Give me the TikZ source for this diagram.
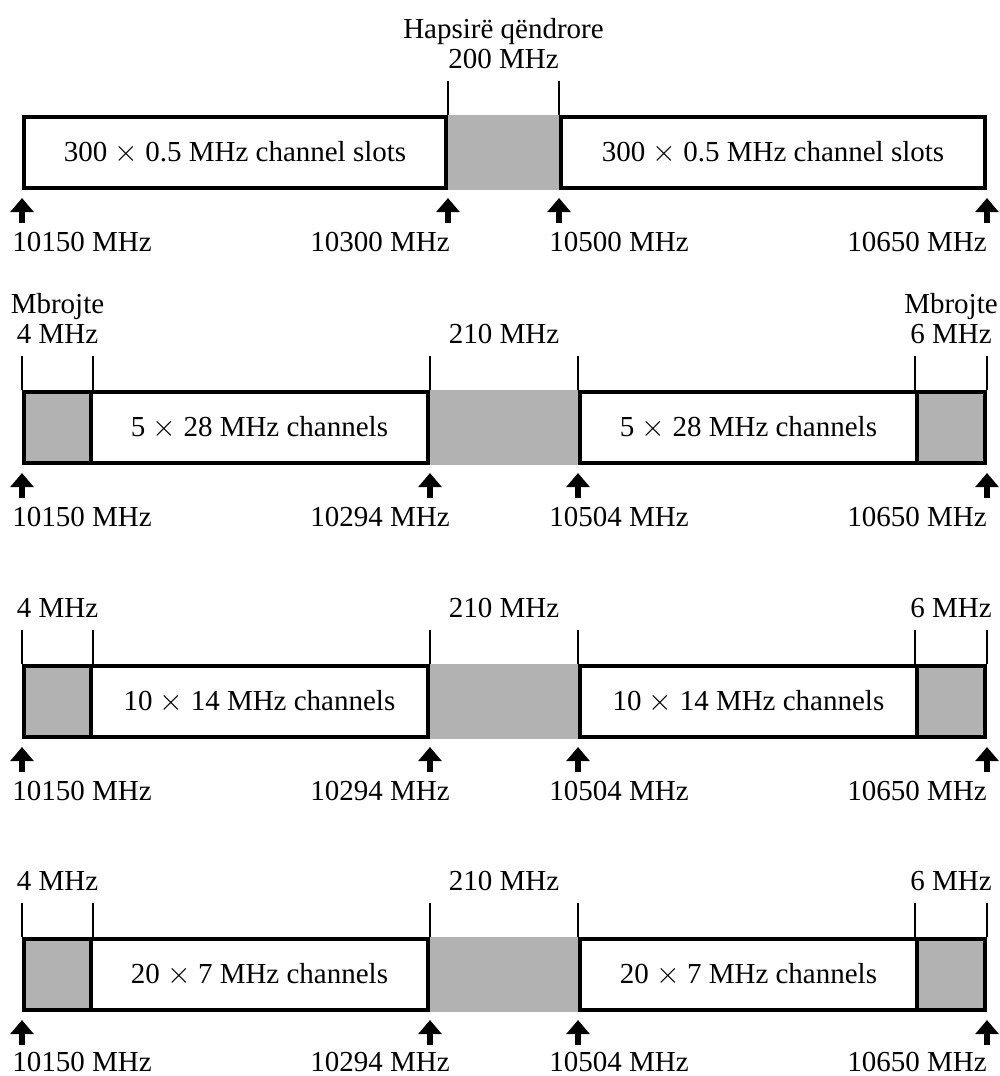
\documentclass[tikz,border=0pt]{standalone}
\usepackage{fontspec}
\setmainfont{Liberation Serif}
\usetikzlibrary{arrows.meta, calc}
\definecolor{gapgray}{HTML}{B2B2B2}

\begin{document}
\begin{tikzpicture}[
  x=0.02cm, y=-0.02cm,
  font=\fontsize{16.5}{17}\selectfont,
  slot/.style={
    draw, line width=2.3pt, inner sep=0pt,
    minimum height=1.42cm, align=center
  },
  guard/.style={slot, fill=gapgray},
  gap/.style={fill=gapgray, inner sep=0pt, minimum height=1.42cm+2.3pt},
  tick/.style={line width=1pt},
  freq/.style={-{Triangle[width=13pt, length=8pt]}, line width=3.2pt},
  flbl/.style={inner sep=0pt},
  toplbl/.style={inner sep=0pt, anchor=south, align=center},
]
\useasboundingbox (0,0) rectangle (1000,1076);

% Row 1: 300 x 0.5 MHz slots, centre gap 200 MHz
\node[gap, minimum width=2.30cm] (g1) at (503.5,152.5) {};
\node[slot, minimum width=8.44cm] (s1a) at (235,152.5) {300 $\times$ 0.5 MHz channel slots};
\node[slot, minimum width=8.48cm] (s1b) at (773,152.5) {300 $\times$ 0.5 MHz channel slots};
\draw[tick] (s1a.north east) -- ++(0,-34) coordinate (t1a);
\draw[tick] (s1b.north west) -- ++(0,-34) coordinate (t1b);
\node[toplbl] (h1) at ($(t1a)!0.5!(t1b)+(0,-12)$) {Hapsirë qëndrore\\200 MHz};
\draw[freq] ($(s1a.south west)+(0,33)$) -- ++(0,-25);
\draw[freq] ($(s1a.south east)+(0,33)$) -- ++(0,-25);
\draw[freq] ($(s1b.south west)+(0,33)$) -- ++(0,-25);
\draw[freq] ($(s1b.south east)+(0,33)$) -- ++(0,-25);
\node[flbl, anchor=west] (f1a) at (12,242)  {10150 MHz};
\node[flbl, anchor=east] (f1b) at (450,242) {10300 MHz};
\node[flbl, anchor=west] (f1c) at (549,242) {10500 MHz};
\node[flbl, anchor=east] (f1d) at (987,242) {10650 MHz};

% Row 2: 5 x 28 MHz, guard bands 4 / 6 MHz
\node[gap, minimum width=3.04cm] (g2) at (504,427.5) {};
\node[guard, minimum width=1.34cm] (l2) at (57.5,427.5) {};
\node[slot, minimum width=6.74cm] (s2a) at (259.5,427.5) {5 $\times$ 28 MHz channels};
\node[slot, minimum width=6.74cm] (s2b) at (748.5,427.5) {5 $\times$ 28 MHz channels};
\node[guard, minimum width=1.36cm] (r2) at (951,427.5) {};
\draw[tick] (l2.north west) -- ++(0,-34) coordinate (t2a);
\draw[tick] (l2.north east) -- ++(0,-34) coordinate (t2b);
\draw[tick] (s2a.north east) -- ++(0,-34) coordinate (t2c);
\draw[tick] (s2b.north west) -- ++(0,-34) coordinate (t2d);
\draw[tick] (r2.north west) -- ++(0,-34) coordinate (t2e);
\draw[tick] (r2.north east) -- ++(0,-34) coordinate (t2f);
\node[toplbl] (m2a) at ($(t2a)!0.5!(t2b)+(0,-12)$) {Mbrojte\\4 MHz};
\node[toplbl] (m2b) at ($(t2c)!0.5!(t2d)+(0,-12)$) {210 MHz};
\node[toplbl] (m2c) at ($(t2e)!0.5!(t2f)+(0,-12)$) {Mbrojte\\6 MHz};
\draw[freq] ($(l2.south west)+(0,33)$) -- ++(0,-25);
\draw[freq] ($(s2a.south east)+(0,33)$) -- ++(0,-25);
\draw[freq] ($(s2b.south west)+(0,33)$) -- ++(0,-25);
\draw[freq] ($(r2.south east)+(0,33)$) -- ++(0,-25);
\node[flbl, anchor=west] (f2a) at (12,517)  {10150 MHz};
\node[flbl, anchor=east] (f2b) at (450,517) {10294 MHz};
\node[flbl, anchor=west] (f2c) at (549,517) {10504 MHz};
\node[flbl, anchor=east] (f2d) at (987,517) {10650 MHz};

% Row 3: 10 x 14 MHz
\node[gap, minimum width=3.04cm] (g3) at (504,701.5) {};
\node[guard, minimum width=1.34cm] (l3) at (57.5,701.5) {};
\node[slot, minimum width=6.74cm] (s3a) at (259.5,701.5) {10 $\times$ 14 MHz channels};
\node[slot, minimum width=6.74cm] (s3b) at (748.5,701.5) {10 $\times$ 14 MHz channels};
\node[guard, minimum width=1.36cm] (r3) at (951,701.5) {};
\draw[tick] (l3.north west) -- ++(0,-34) coordinate (t3a);
\draw[tick] (l3.north east) -- ++(0,-34) coordinate (t3b);
\draw[tick] (s3a.north east) -- ++(0,-34) coordinate (t3c);
\draw[tick] (s3b.north west) -- ++(0,-34) coordinate (t3d);
\draw[tick] (r3.north west) -- ++(0,-34) coordinate (t3e);
\draw[tick] (r3.north east) -- ++(0,-34) coordinate (t3f);
\node[toplbl] (m3a) at ($(t3a)!0.5!(t3b)+(0,-12)$) {4 MHz};
\node[toplbl] (m3b) at ($(t3c)!0.5!(t3d)+(0,-12)$) {210 MHz};
\node[toplbl] (m3c) at ($(t3e)!0.5!(t3f)+(0,-12)$) {6 MHz};
\draw[freq] ($(l3.south west)+(0,33)$) -- ++(0,-25);
\draw[freq] ($(s3a.south east)+(0,33)$) -- ++(0,-25);
\draw[freq] ($(s3b.south west)+(0,33)$) -- ++(0,-25);
\draw[freq] ($(r3.south east)+(0,33)$) -- ++(0,-25);
\node[flbl, anchor=west] (f3a) at (12,791)  {10150 MHz};
\node[flbl, anchor=east] (f3b) at (450,791) {10294 MHz};
\node[flbl, anchor=west] (f3c) at (549,791) {10504 MHz};
\node[flbl, anchor=east] (f3d) at (987,791) {10650 MHz};

% Row 4: 20 x 7 MHz
\node[gap, minimum width=3.04cm] (g4) at (504,974.5) {};
\node[guard, minimum width=1.34cm] (l4) at (57.5,974.5) {};
\node[slot, minimum width=6.74cm] (s4a) at (259.5,974.5) {20 $\times$ 7 MHz channels};
\node[slot, minimum width=6.74cm] (s4b) at (748.5,974.5) {20 $\times$ 7 MHz channels};
\node[guard, minimum width=1.36cm] (r4) at (951,974.5) {};
\draw[tick] (l4.north west) -- ++(0,-34) coordinate (t4a);
\draw[tick] (l4.north east) -- ++(0,-34) coordinate (t4b);
\draw[tick] (s4a.north east) -- ++(0,-34) coordinate (t4c);
\draw[tick] (s4b.north west) -- ++(0,-34) coordinate (t4d);
\draw[tick] (r4.north west) -- ++(0,-34) coordinate (t4e);
\draw[tick] (r4.north east) -- ++(0,-34) coordinate (t4f);
\node[toplbl] (m4a) at ($(t4a)!0.5!(t4b)+(0,-12)$) {4 MHz};
\node[toplbl] (m4b) at ($(t4c)!0.5!(t4d)+(0,-12)$) {210 MHz};
\node[toplbl] (m4c) at ($(t4e)!0.5!(t4f)+(0,-12)$) {6 MHz};
\draw[freq] ($(l4.south west)+(0,33)$) -- ++(0,-25);
\draw[freq] ($(s4a.south east)+(0,33)$) -- ++(0,-25);
\draw[freq] ($(s4b.south west)+(0,33)$) -- ++(0,-25);
\draw[freq] ($(r4.south east)+(0,33)$) -- ++(0,-25);
\node[flbl, anchor=west] (f4a) at (12,1062)  {10150 MHz};
\node[flbl, anchor=east] (f4b) at (450,1062) {10294 MHz};
\node[flbl, anchor=west] (f4c) at (549,1062) {10504 MHz};
\node[flbl, anchor=east] (f4d) at (987,1062) {10650 MHz};
\end{tikzpicture}
\end{document}
